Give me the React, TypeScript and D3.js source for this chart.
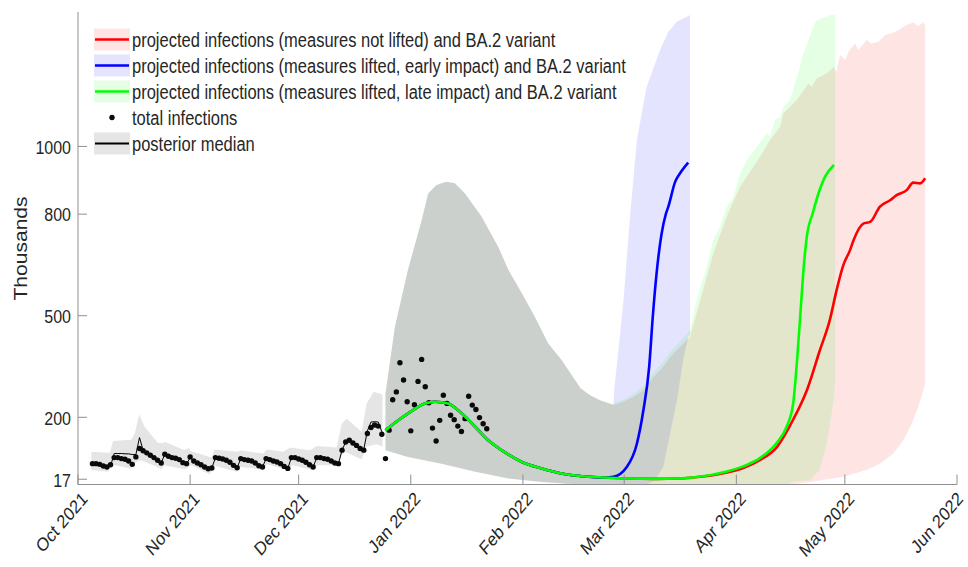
import React from "react";
import * as d3 from "d3";

const W = 968;
const H = 567;
const SY = 1.17; // vertical stretch of the reference picture's glyphs
const START = Date.UTC(2021, 9, 1);
const END = Date.UTC(2022, 5, 1);
const DAY = 864e5;
const FONT = "'Liberation Sans', Arial, Helvetica, sans-serif";

const monthTicks = [
  Date.UTC(2021, 9, 1), Date.UTC(2021, 10, 1), Date.UTC(2021, 11, 1),
  Date.UTC(2022, 0, 1), Date.UTC(2022, 1, 1), Date.UTC(2022, 2, 1),
  Date.UTC(2022, 3, 1), Date.UTC(2022, 4, 1), Date.UTC(2022, 5, 1),
];
const monthLabels = ["Oct 2021", "Nov 2021", "Dec 2021", "Jan 2022", "Feb 2022", "Mar 2022", "Apr 2022", "May 2022", "Jun 2022"];
const yTicks = [17, 200, 500, 800, 1000];

// total infections (daily, day offsets from 1 Oct 2021)
const histDotsStart = 4;
const histDots = [
  63, 63, 61, 56, 53, 60,
  81, 81, 78, 76, 71, 61,
  83, 108, 101, 95, 88, 81, 73, 65,
  91, 85, 81, 79, 75, 66, 63,
  83, 71, 65, 60, 53, 48, 50,
  81, 79, 77, 73, 67, 58, 51,
  78, 75, 73, 71, 65, 57, 53,
  78, 75, 71, 68, 63, 55, 49,
  81, 81, 77, 73, 67, 60, 53,
  81, 81, 78, 76, 71, 65, 63,
  103, 127, 132, 124, 117, 108, 103,
  152, 170, 177, 174, 150,
  78,
];
const recentDotsStart = 86;
const recentDots = [162, 252, 275, 361, 310, 246, 160, 237, 306, 371, 290, 243, 168, 130, 191, 265, 241, 206, 193, 174, 158, 196, 262, 236, 223, 199, 181, 166];

// posterior median (fit period)
const histMedianStart = 4;
const histMedian = [
  63, 63, 61, 56, 53, 56,
  93, 93, 93, 92, 92, 90,
  90, 140, 103, 96, 88, 81, 73, 65,
  91, 85, 81, 79, 75, 66, 63,
  80, 71, 65, 60, 53, 48, 50,
  81, 79, 77, 73, 67, 58, 51,
  78, 75, 73, 71, 65, 57, 53,
  78, 75, 71, 68, 63, 55, 49,
  81, 81, 77, 73, 67, 60, 53,
  81, 81, 78, 76, 71, 65, 63,
  103, 127, 132, 124, 117, 108, 105,
  160, 186, 187, 186, 157,
];

type P = [number, number];
const histUpper: P[] = [[3.7, 98], [8.8, 95], [9.7, 130], [14.7, 134], [15.7, 152], [16.9, 209], [18.4, 172], [22.1, 124], [23.5, 124], [24.1, 127], [29.5, 103], [30.5, 110], [31.3, 100], [36.9, 81], [37.8, 105], [44.2, 98], [44.8, 103], [51.2, 93], [52.2, 105], [56.7, 98], [58.6, 111], [64.2, 103], [66, 115], [71.5, 111], [72.9, 181], [74.3, 196], [78.4, 157], [79.8, 241], [81.7, 275], [83.5, 270], [84.2, 265]];
const histLower: P[] = [[3.7, 44], [8.3, 39], [9.2, 61], [14.7, 48], [16.1, 68], [17.5, 73], [23, 48], [24, 58], [29.5, 46], [31.3, 58], [36.4, 32], [37.8, 57], [43.8, 39], [44.8, 53], [51.2, 46], [52.2, 61], [57.9, 44], [59.3, 58], [64.8, 44], [66, 58], [71.9, 58], [72.9, 88], [73.8, 98], [78.4, 75], [79.8, 114], [82.6, 120], [84.2, 114]];

// projection interval shared by the three scenarios
const projUpper: P[] = [[85, 270], [87.6, 467], [91.2, 635], [95, 782], [96.8, 861], [99, 885], [100.5, 891], [102, 896], [104.2, 891], [107, 861], [111.6, 792], [116.2, 703], [119, 635], [122.7, 566], [126.3, 497], [130, 418], [133.7, 369], [137.4, 310], [139, 285], [141.6, 265], [144.3, 250]];
const projLower: P[] = [[85, 103], [91.2, 83], [100.5, 63], [109.8, 39], [119, 19], [128.2, 9], [137.4, 2], [144.3, 0]];

const redUpper: P[] = [[148, 236], [150.8, 246], [153.5, 260], [156.3, 280], [159.1, 319], [161.8, 349], [163.7, 378], [166.4, 408], [169.2, 438], [171, 507], [173.8, 615], [175.6, 684], [179.3, 792], [183, 881], [186.7, 940], [188.6, 970], [191.3, 1019], [194.1, 1058], [195, 1098], [196.8, 1117], [198.7, 1137], [201.9, 1186], [202.8, 1176], [204.2, 1201], [207, 1216], [209, 1235], [209.6, 1220], [210.7, 1270], [212.1, 1255], [213, 1280], [214.8, 1304], [215.7, 1285], [218, 1314], [219.4, 1304], [221.3, 1309], [223.1, 1329], [225, 1334], [227.3, 1346], [228.4, 1356], [230.9, 1366], [232.3, 1356], [233.7, 1366], [234.2, 1358]];
const redLower: P[] = [[196, 0], [202.4, 9], [211.6, 24], [218, 44], [221.7, 63], [225.4, 93], [228.2, 132], [230.5, 182], [232.3, 231], [233.7, 280], [234.2, 300]];

const blueUpper: P[] = [[148, 236], [148.3, 290], [149.4, 398], [150.8, 546], [152.6, 792], [154.5, 1019], [157.2, 1176], [160.9, 1285], [163.2, 1339], [165.5, 1368], [168.3, 1383], [169.2, 1388]];
const blueLower: P[] = [[157, 0], [159.5, 14], [161.8, 53], [163.7, 152], [165.6, 250], [167.3, 369], [168.7, 437], [169.2, 445]];

const greenUpper: P[] = [[148, 240], [150.8, 252], [153.5, 268], [156.3, 292], [159.1, 334], [161.8, 364], [163.7, 393], [166.4, 423], [169.2, 457], [171, 546], [173.8, 644], [175.6, 723], [177.5, 763], [179.3, 822], [181.2, 851], [183, 920], [184.9, 960], [187.6, 999], [190.4, 1038], [191.3, 1029], [192.7, 1078], [194.1, 1088], [195, 1117], [196.8, 1137], [197.7, 1167], [199.6, 1235], [200.1, 1260], [201.9, 1314], [203.3, 1354], [204.2, 1373], [205.6, 1378], [207, 1383], [207.9, 1388], [209.3, 1388]];
const greenLower: P[] = [[196, 0], [197.6, 10], [202.4, 14], [205, 44], [207, 120], [208.2, 200], [209, 260], [209.3, 300]];

// projected medians
const sharedMedian: P[] = [[85, 162], [88, 187], [91.2, 211], [95.9, 241], [98.7, 246], [102.3, 241], [106.1, 211], [109.8, 172], [113.4, 132], [117.1, 103], [122.7, 68], [128.2, 49], [133.7, 34], [139.3, 26], [145.7, 22], [152, 19], [160, 18], [165.6, 19], [170, 22]];
const blueSplit = 146;
const blueMedian: P[] = [[148, 24], [151.7, 53], [154.5, 122], [156.3, 221], [157.9, 349], [158.9, 497], [159.9, 620], [161.3, 740], [162.5, 800], [163.2, 822], [165.1, 896], [166.4, 920], [168.7, 952]];
const redMedian: P[] = [[179.4, 37], [183.9, 50], [188.6, 74], [193.2, 112], [197.8, 195], [201.5, 280], [205, 395], [207.9, 490], [209.7, 575], [211.6, 650], [213.4, 693], [214.4, 723], [217.1, 772], [219, 777], [221.7, 822], [224.5, 841], [226.3, 856], [229.1, 871], [230.9, 893], [232.8, 891], [234.2, 906]];
const greenMedian: P[] = [[179.4, 40], [183.9, 55], [188.6, 80], [193.2, 125], [195.9, 172], [197.7, 240], [198.8, 370], [199.8, 520], [200.6, 640], [201.5, 735], [203.1, 802], [204.7, 861], [206.5, 910], [209, 945]];

const legendLabels = [
  "projected infections (measures not lifted) and BA.2 variant",
  "projected infections (measures lifted, early impact) and BA.2 variant",
  "projected infections (measures lifted, late impact) and BA.2 variant",
  "total infections",
  "posterior median",
];

const RED = "#ff0000";
const BLUE = "#0000ff";
const GREEN = "#00ff00";
const BAND_ALPHA = 0.105;
const HIST_BAND = "#e5e5e5";
const AXIS = "#8f8f8f";
const TEXT = "#262626";

const toDate = (d: number) => new Date(START + d * DAY);

function T(props: { x: number; y: number; anchor?: string; size: number; rot?: number; children: React.ReactNode }) {
  const { x, y, anchor = "start", size, rot = 0, children } = props;
  return (
    <text
      transform={`translate(${x},${y}) scale(1,${SY}) rotate(${rot})`}
      textAnchor={anchor}
      fontSize={size}
      fontFamily={FONT}
      fill={TEXT}
    >
      {children}
    </text>
  );
}

export default function App() {
  const x = d3.scaleUtc().domain([new Date(START), new Date(END)]).range([78, 957]);
  const y = d3.scaleLinear().domain([0, 1400]).range([485, 11]);
  const line = d3.line<P>().x((p) => x(toDate(p[0]))).y((p) => y(p[1]));
  const smooth = d3.line<P>().x((p) => x(toDate(p[0]))).y((p) => y(p[1])).curve(d3.curveMonotoneX);
  const band = (up: P[], lo: P[]) => line(up.concat(lo.slice().reverse())) + "Z";

  const histMedPts: P[] = histMedian.map((v, i) => [histMedianStart + i, v]);
  const dots: P[] = histDots.map((v, i) => [histDotsStart + i, v] as P).concat(recentDots.map((v, i) => [recentDotsStart + i, v] as P));

  const bands = [
    { color: RED, up: projUpper.concat(redUpper), lo: projLower.concat(redLower) },
    { color: BLUE, up: projUpper.concat(blueUpper), lo: projLower.concat(blueLower) },
    { color: GREEN, up: projUpper.concat(greenUpper), lo: projLower.concat(greenLower) },
  ];
  const medians = [
    { color: RED, pts: sharedMedian.concat(redMedian) },
    { color: BLUE, pts: sharedMedian.filter((p) => p[0] < blueSplit).concat(blueMedian) },
    { color: GREEN, pts: sharedMedian.concat(greenMedian) },
  ];

  const axisY = 484.5;
  const legendRows = legendLabels.map((_, i) => 39.5 + i * 26);

  return (
    <svg width={W} height={H} style={{ position: "absolute", left: 0, top: 0, background: "#fff" }}>
      <rect x={0} y={0} width={W} height={H} fill="#fff" />
      <path d={band(histUpper, histLower)} fill={HIST_BAND} stroke="none" />
      {bands.map((b, i) => (
        <path key={i} d={band(b.up, b.lo)} fill={b.color} fillOpacity={BAND_ALPHA} stroke="none" />
      ))}
      <path d={line(histMedPts) || ""} fill="none" stroke="#000" strokeWidth={1} />
      {dots.map((p, i) => (
        <circle key={i} cx={x(toDate(p[0]))} cy={y(p[1])} r={2.7} fill="#0a0a0a" />
      ))}
      {medians.map((m, i) => (
        <path key={i} d={smooth(m.pts) || ""} fill="none" stroke={m.color} strokeWidth={2.6} strokeLinejoin="round" />
      ))}

      <line x1={78} y1={12} x2={78} y2={axisY} stroke={AXIS} strokeWidth={1} />
      <line x1={78} y1={axisY} x2={957} y2={axisY} stroke={AXIS} strokeWidth={1.2} />
      {yTicks.map((t) => (
        <g key={t}>
          <line x1={78} x2={87} y1={y(t)} y2={y(t)} stroke={AXIS} strokeWidth={1} />
          <T x={71} y={y(t) + 7.3} anchor="end" size={16}>{t}</T>
        </g>
      ))}
      {monthTicks.map((t, i) => (
        <g key={t}>
          <line x1={x(new Date(t))} x2={x(new Date(t))} y1={axisY} y2={axisY - 10} stroke={AXIS} strokeWidth={1} />
          <T x={Math.min(x(new Date(t)) + 10.5, 964)} y={500} anchor="end" size={16} rot={-45}>{monthLabels[i]}</T>
        </g>
      ))}
      <T x={26.5} y={248.5} anchor="middle" size={18} rot={-90}>Thousands</T>

      {[RED, BLUE, GREEN].map((c, i) => (
        <g key={c}>
          <rect x={94} y={legendRows[i] - 11} width={36} height={22} fill={c} fillOpacity={BAND_ALPHA} />
          <line x1={95} x2={129} y1={legendRows[i]} y2={legendRows[i]} stroke={c} strokeWidth={2.6} />
        </g>
      ))}
      <circle cx={112} cy={legendRows[3]} r={2.7} fill="#0a0a0a" />
      <rect x={94} y={legendRows[4] - 11} width={36} height={22} fill={HIST_BAND} />
      <line x1={95} x2={129} y1={legendRows[4]} y2={legendRows[4]} stroke="#000" strokeWidth={2.2} />
      {legendLabels.map((l, i) => (
        <T key={l} x={132} y={legendRows[i] + 7.5} size={16.5}>{l}</T>
      ))}
    </svg>
  );
}
